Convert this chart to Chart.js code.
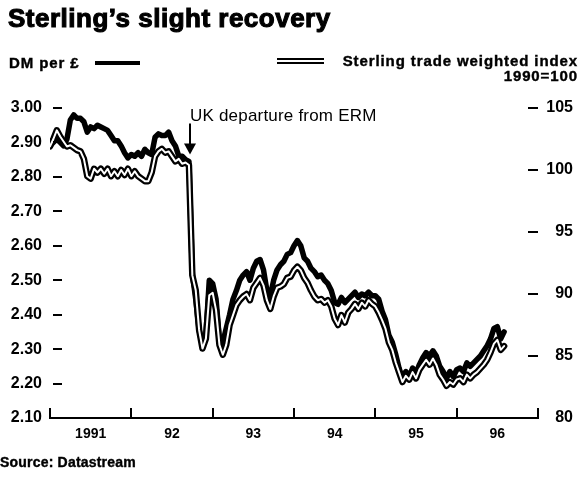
<!DOCTYPE html>
<html>
<head>
<title>Sterling's slight recovery</title>
<script src="https://cdn.jsdelivr.net/npm/chart.js"></script>
<style>
  body { margin: 0; background: #fff; font-family: "Liberation Sans", Arial, sans-serif; color: #000; }
  .wrap { position: relative; width: 587px; height: 480px; overflow: hidden; }
  canvas { position: absolute; left: 0; top: 0; }
  .title { position: absolute; left: 8px; top: 3px; font-size: 26px; font-weight: bold; letter-spacing: 0.5px; -webkit-text-stroke: 1.1px #000; white-space: nowrap; }
  .lab { position: absolute; font-size: 15px; font-weight: bold; letter-spacing: 0.9px; -webkit-text-stroke: 0.4px #000; white-space: nowrap; }
  .src { font-size: 14px; letter-spacing: 0.2px; }
  .swatch { position: absolute; }
  .dm { height: 4px; background: #000; }
  .twi { height: 2px; background: #fff; border-top: 2px solid #000; border-bottom: 2px solid #000; }
</style>
</head>
<body>
<div class="wrap">
  <canvas id="chart" width="587" height="480"></canvas>
  <div class="title">Sterling’s slight recovery</div>
  <div class="lab" style="left:9px; top:54px;">DM per £</div>
  <div class="swatch dm" style="left:95px; top:61px; width:45px;"></div>
  <div class="swatch twi" style="left:277px; top:58px; width:47px;"></div>
  <div class="lab" style="right:9px; top:52px;">Sterling trade weighted index</div>
  <div class="lab" style="right:9px; top:67px;">1990=100</div>
  <div class="lab src" style="left:0px; top:454px;">Source: Datastream</div>
</div>
<script>
// semi-monthly readings, Jan 1991 to Jul 1996
const startYear = 1991;
const perYear = 24;

const dmPerPound = [
  2.89, 2.90, 2.91, 2.90, 2.89, 2.91, 2.965, 2.98, 2.97, 2.97,
  2.96, 2.93, 2.945, 2.94, 2.95, 2.945, 2.94, 2.935, 2.92, 2.905,
  2.905, 2.89, 2.87, 2.855, 2.865, 2.86, 2.87, 2.86, 2.88, 2.87,
  2.865, 2.915, 2.925, 2.92, 2.92, 2.93, 2.905, 2.89, 2.86, 2.86,
  2.85, 2.845, 2.52, 2.445, 2.355, 2.31, 2.34, 2.50, 2.49, 2.445,
  2.325, 2.32, 2.36, 2.40, 2.445, 2.47, 2.50, 2.515, 2.525, 2.50,
  2.535, 2.555, 2.56, 2.53, 2.47, 2.455, 2.50, 2.53, 2.545, 2.555,
  2.575, 2.58, 2.60, 2.615, 2.60, 2.565, 2.555, 2.535, 2.525, 2.51,
  2.515, 2.50, 2.49, 2.47, 2.435, 2.43, 2.45, 2.435, 2.445, 2.455,
  2.465, 2.45, 2.46, 2.455, 2.465, 2.455, 2.455, 2.445, 2.41, 2.385,
  2.34, 2.32, 2.285, 2.245, 2.215, 2.235, 2.22, 2.245, 2.23, 2.255,
  2.275, 2.29, 2.28, 2.295, 2.28, 2.25, 2.235, 2.215, 2.235, 2.22,
  2.24, 2.245, 2.235, 2.26, 2.25, 2.26, 2.27, 2.28, 2.295, 2.31,
  2.33, 2.36, 2.365, 2.33, 2.35
];

const tradeWeighted = [
  101.9, 102.5, 103.2, 102.7, 102.3, 101.9, 102.0, 101.8, 101.6, 101.5,
  100.9, 99.5, 99.3, 100.1, 99.8, 100.1, 99.7, 100.1, 99.5, 99.9,
  99.5, 100.0, 99.6, 100.1, 99.5, 99.9, 99.5, 99.3, 99.1, 99.1,
  99.8, 101.1, 101.5, 101.7, 101.4, 101.5, 101.1, 100.7, 100.9, 100.5,
  100.6, 100.4, 91.5, 90.3, 87.1, 85.6, 86.4, 89.9, 90.1, 88.7,
  85.9, 85.1, 85.9, 87.5, 88.3, 89.1, 89.5, 89.8, 90.0, 89.5,
  90.5, 90.9, 91.3, 90.7, 89.5, 88.8, 89.8, 90.5, 90.6, 90.8,
  91.3, 91.4, 91.9, 92.2, 91.9, 91.3, 90.9, 90.3, 89.8, 89.5,
  89.6, 89.3, 89.5, 89.0, 88.0, 87.5, 88.3, 87.7, 88.5, 88.8,
  89.2, 88.8, 89.3, 89.0, 89.5, 89.2, 89.0, 88.5, 87.9, 87.2,
  86.1, 85.5, 84.5, 83.7, 82.9, 83.4, 83.1, 83.7, 83.2, 83.9,
  84.3, 84.7, 84.3, 84.8, 84.3, 83.5, 83.1, 82.6, 82.9, 82.7,
  83.1, 83.2, 82.9, 83.5, 83.2, 83.5, 83.7, 84.0, 84.3, 84.7,
  85.3, 86.0, 86.3, 85.5, 85.8
];

const leftTicks = [2.10, 2.20, 2.30, 2.40, 2.50, 2.60, 2.70, 2.80, 2.90, 3.00];
const rightTicks = [80, 85, 90, 95, 100, 105];
const yearTicks = [1991, 1992, 1993, 1994, 1995, 1996, 1997];
const yearLabels = ['1991', '92', '93', '94', '95', '96'];
const ermExit = 1992.72;
const ermLabel = 'UK departure from ERM';

const toPoints = arr => arr.map((v, i) => ({ x: startYear + i / perYear, y: v }));

const tickFont = { family: 'Liberation Sans', size: 16, weight: 'bold' };

const marks = {
  id: 'marks',
  afterDraw(chart) {
    const { ctx, chartArea: a, scales: { x, y, y2 } } = chart;
    ctx.save();
    ctx.strokeStyle = '#000';
    ctx.lineWidth = 2;
    ctx.beginPath();
    leftTicks.slice(1).forEach(v => {
      const py = Math.round(y.getPixelForValue(v));
      ctx.moveTo(a.left + 3, py); ctx.lineTo(a.left + 12, py);
    });
    rightTicks.slice(1).forEach(v => {
      const py = Math.round(y2.getPixelForValue(v));
      ctx.moveTo(a.right - 10, py); ctx.lineTo(a.right, py);
    });
    yearTicks.forEach(v => {
      const px = Math.round(x.getPixelForValue(v));
      ctx.moveTo(px, a.bottom); ctx.lineTo(px, a.bottom - 10);
    });
    ctx.stroke();

    // ERM annotation
    const ax = Math.round(x.getPixelForValue(ermExit));
    const tip = y.getPixelForValue(2.865);
    ctx.font = '17px "Liberation Sans"';
    ctx.letterSpacing = '0.2px';
    ctx.fillStyle = '#000';
    ctx.textBaseline = 'middle';
    ctx.fillText(ermLabel, ax, y.getPixelForValue(2.977));
    ctx.lineWidth = 2;
    ctx.beginPath();
    ctx.moveTo(ax, y.getPixelForValue(2.955));
    ctx.lineTo(ax, tip - 8);
    ctx.stroke();
    ctx.beginPath();
    ctx.moveTo(ax - 6, tip - 11);
    ctx.lineTo(ax + 6, tip - 11);
    ctx.lineTo(ax, tip);
    ctx.closePath();
    ctx.fill();
    ctx.restore();
  }
};

new Chart(document.getElementById('chart'), {
  type: 'line',
  data: {
    datasets: [
      { label: 'twi core', data: toPoints(tradeWeighted), yAxisID: 'y2', borderColor: '#fff', borderWidth: 2, order: 0 },
      { label: 'Sterling trade weighted index', data: toPoints(tradeWeighted), yAxisID: 'y2', borderColor: '#000', borderWidth: 6.5, order: 1 },
      { label: 'DM per £', data: toPoints(dmPerPound), yAxisID: 'y', borderColor: '#000', borderWidth: 5.5, order: 2 }
    ]
  },
  options: {
    responsive: false,
    animation: false,
    elements: { point: { radius: 0 }, line: { tension: 0, borderJoinStyle: 'round', borderCapStyle: 'round' } },
    layout: { padding: { left: 0, right: 14, top: 108, bottom: 32 } },
    plugins: { legend: { display: false }, tooltip: { enabled: false } },
    scales: {
      x: {
        type: 'linear', min: 1991, max: 1997,
        afterFit: s => { s.height = 30; },
        grid: { display: false, drawTicks: false },
        border: { display: true, color: '#000', width: 2 },
        afterBuildTicks: s => { s.ticks = yearTicks.slice(0, -1).map(v => ({ value: v + 0.5 })); },
        ticks: {
          autoSkip: false, maxRotation: 0, padding: 8, color: '#000',
          font: { family: 'Liberation Sans', size: 14, weight: 'bold' },
          callback: (v, i) => yearLabels[i]
        }
      },
      y: {
        position: 'left', min: 2.10, max: 3.00,
        afterFit: s => { s.width = 50; },
        afterBuildTicks: s => { s.ticks = leftTicks.map(v => ({ value: v })); },
        grid: { display: false, drawTicks: false },
        border: { display: false },
        ticks: { padding: 8, color: '#000', font: tickFont, callback: v => v.toFixed(2) }
      },
      y2: {
        position: 'right', min: 80, max: 105,
        afterFit: s => { s.width = 35; },
        afterBuildTicks: s => { s.ticks = rightTicks.map(v => ({ value: v })); },
        grid: { display: false, drawTicks: false },
        border: { display: false },
        ticks: { padding: 8, crossAlign: 'far', color: '#000', font: tickFont }
      }
    }
  },
  plugins: [marks]
});
</script>
</body>
</html>
